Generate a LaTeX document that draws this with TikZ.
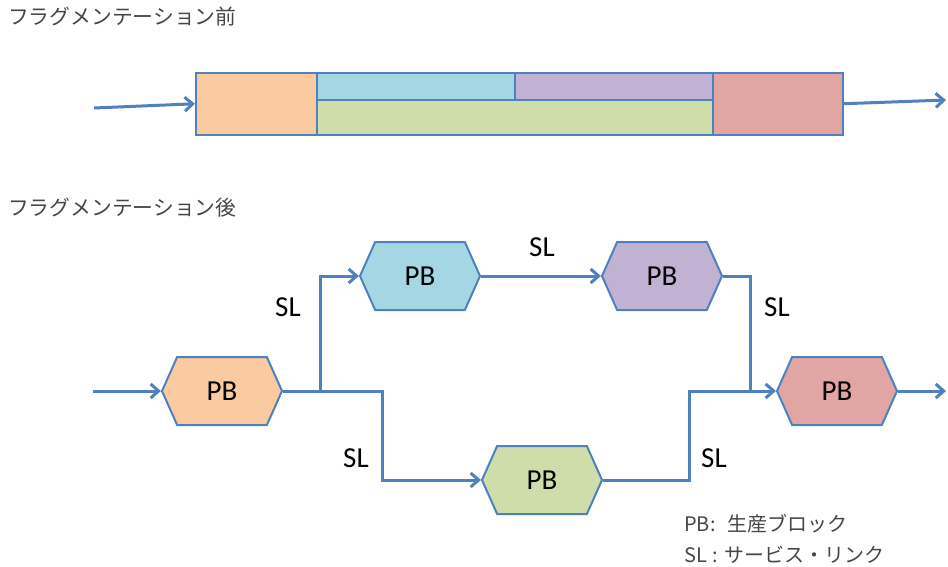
\documentclass[tikz,border=0pt]{standalone}
\usepackage{fontspec}
\setmainfont{Carlito}
\newfontfamily\jp{Noto Sans CJK JP}
\usetikzlibrary{arrows.meta,shapes.symbols}
\definecolor{linkblue}{RGB}{79,129,189}
\definecolor{fOrange}{RGB}{250,203,161}
\definecolor{fBlue}{RGB}{165,214,227}
\definecolor{fPurple}{RGB}{193,178,211}
\definecolor{fGreen}{RGB}{206,221,170}
\definecolor{fRed}{RGB}{225,166,163}
\definecolor{titlegray}{RGB}{70,70,70}
\begin{document}
\begin{tikzpicture}[x=1pt,y=-1pt,
 link/.style={draw=linkblue,line width=3pt},
 arr/.style={-{Straight Barb[length=8pt,width=14pt]}},
 pbbox/.style={signal, signal to=east and west, signal pointer angle=132, draw=linkblue, line width=2pt, minimum width=120pt, minimum height=68pt, inner sep=0pt, font=\fontsize{29}{31}\selectfont},
 cell/.style={draw=linkblue, line width=1.5pt, anchor=north west, inner sep=0pt},
 slabel/.style={font=\fontsize{29}{31}\selectfont},
 title/.style={anchor=west, font=\jp\fontsize{20.8}{23}\selectfont, text=titlegray, inner sep=0pt},
 legend/.style={anchor=west, font=\jp\fontsize{20}{22}\selectfont, text=titlegray, inner sep=0pt}]
\useasboundingbox (0,0) rectangle (948,566);

\node[title] (t1) at (8,17) {フラグメンテーション前};
\node[title] (t2) at (8,208) {フラグメンテーション後};

% top bar
\node[cell,fill=fOrange,minimum width=121pt,minimum height=62pt] (cO) at (195,72) {};
\node[cell,fill=fBlue,minimum width=198pt,minimum height=27pt] (cB) at (316,72) {};
\node[cell,fill=fPurple,minimum width=198pt,minimum height=27pt] (cP) at (514,72) {};
\node[cell,fill=fGreen,minimum width=396pt,minimum height=35pt] (cG) at (316,99) {};
\node[cell,fill=fRed,minimum width=130pt,minimum height=62pt] (cR) at (712,72) {};
\coordinate (tin) at (94,108);
\coordinate (tout) at (946,100);
\draw[link,arr] (tin) -- (cO.west);
\draw[link,arr] (cR.east) -- (tout);

% hexagons
\node[pbbox,fill=fOrange] (pO) at (222,391) {PB};
\node[pbbox,fill=fBlue] (pB) at (420,276) {PB};
\node[pbbox,fill=fPurple] (pP) at (662,276) {PB};
\node[pbbox,fill=fRed] (pR) at (837,391) {PB};
\node[pbbox,fill=fGreen] (pG) at (542,480) {PB};

\coordinate (in) at (93,391);
\coordinate (out) at (946,391);
\coordinate (j1) at (320,391);
\coordinate (j2) at (382,391);
\coordinate (j3) at (750,391);
\coordinate (j4) at (689,391);
\draw[link,arr] (in) -- (pO.west);
\draw[link,arr] (pO.east) -- (j1) |- (pB.west);
\draw[link,arr] (j1) -- (j2) |- (pG.west);
\draw[link,arr] (pB.east) -- (pP.west);
\draw[link,arr] (pP.east) -| (j3) -- (pR.west);
\draw[link] (pG.east) -| (j4) -- (j3);
\draw[link,arr] (pR.east) -- (out);

\node[slabel] (sl1) at (288,307) {SL};
\node[slabel] (sl2) at (542,247) {SL};
\node[slabel] (sl3) at (777,307) {SL};
\node[slabel] (sl4) at (356,458) {SL};
\node[slabel] (sl5) at (714,458) {SL};

\node[legend] (lg1) at (684,524) {PB:\hspace{0.6em}生産ブロック};
\node[legend] (lg2) at (684,555) {SL\hspace{0.3em}:\hspace{0.3em}サービス・リンク};
\end{tikzpicture}
\end{document}
